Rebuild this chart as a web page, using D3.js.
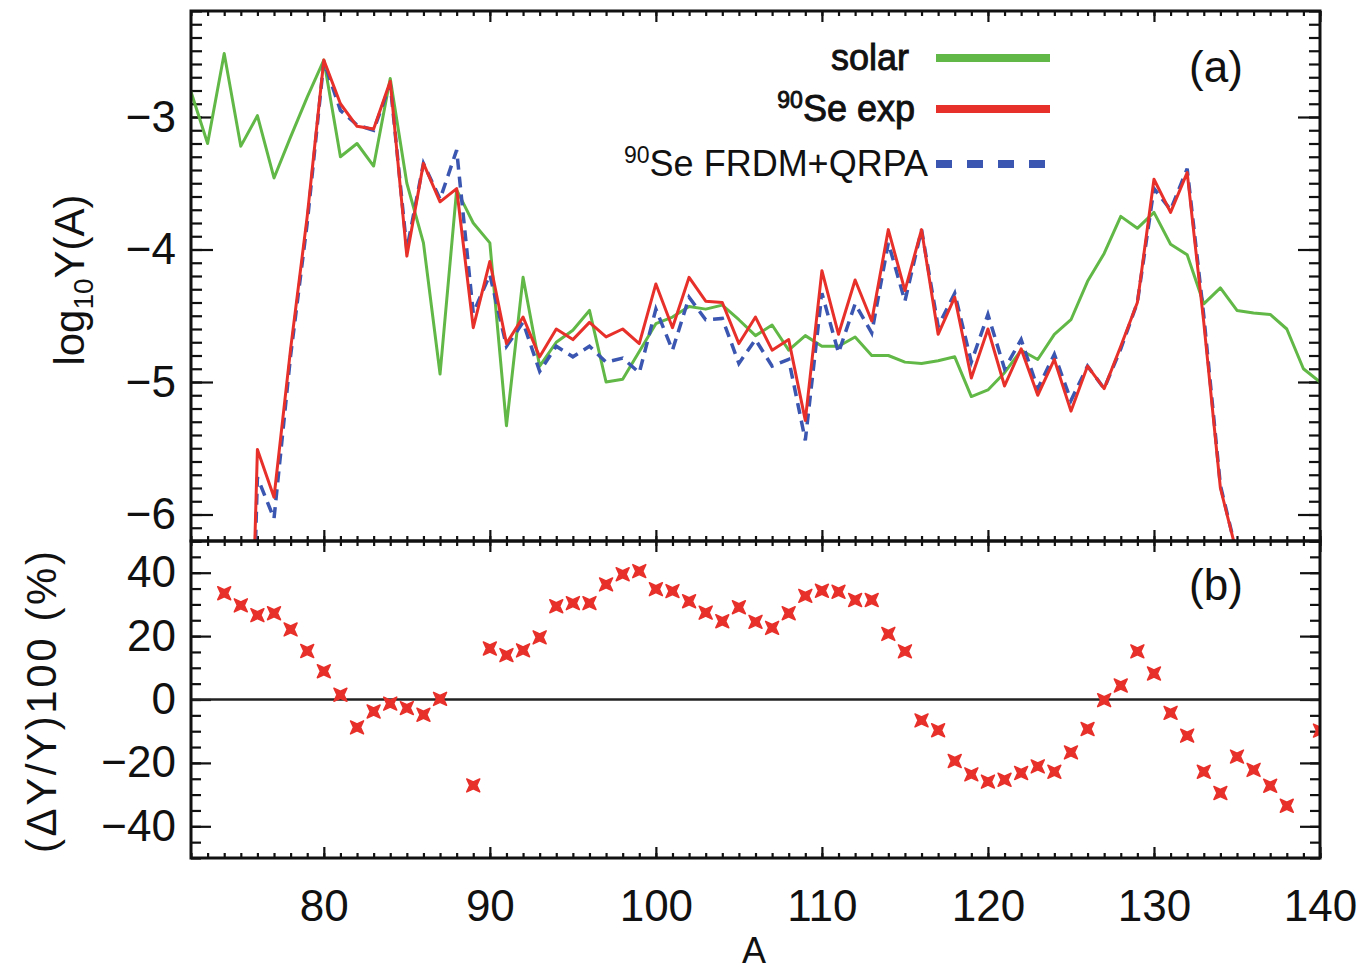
<!DOCTYPE html>
<html>
<head>
<meta charset="utf-8">
<script src="https://cdn.jsdelivr.net/npm/d3@7"></script>
<style>
body { margin: 0; background: #fff; }
text { font-family: "Liberation Sans", Arial, sans-serif; fill: #111; }
</style>
</head>
<body>
<div id="container"></div>
<script>
// mass numbers for the solar curve
var massSolar = d3.range(72, 141);
var solar = [
  -2.81, -3.20, -2.52, -3.22, -2.99, -3.46, -3.15, -2.85, -2.57, -3.30,
  -3.20, -3.37, -2.71, -3.50, -3.95, -4.94, -3.55, -3.80, -3.95, -5.33,
  -4.21, -4.88, -4.70, -4.61, -4.46, -5.00, -4.98, -4.77, -4.56, -4.51,
  -4.43, -4.45, -4.42, -4.53, -4.65, -4.57, -4.76, -4.65, -4.73, -4.73,
  -4.66, -4.80, -4.80, -4.85, -4.86, -4.84, -4.81, -5.11, -5.06, -4.93,
  -4.76, -4.83, -4.64, -4.53, -4.24, -4.03, -3.75, -3.84, -3.72, -3.96,
  -4.04, -4.41, -4.29, -4.46, -4.48, -4.49, -4.60, -4.90, -5.00
];

// mass numbers for the two 90Se calculations
var massCalc = d3.range(75, 137);
var exp90 = [
  -10.0, -5.51, -5.87, -4.75, -3.75, -2.57, -2.90, -3.07, -3.09, -2.73,
  -4.05, -3.35, -3.64, -3.54, -4.59, -4.09, -4.71, -4.51, -4.81, -4.60,
  -4.68, -4.55, -4.66, -4.60, -4.71, -4.26, -4.59, -4.21, -4.39, -4.40,
  -4.71, -4.51, -4.76, -4.68, -5.29, -4.16, -4.64, -4.23, -4.54, -3.85,
  -4.31, -3.85, -4.64, -4.36, -4.97, -4.60, -5.03, -4.75, -5.10, -4.83,
  -5.22, -4.88, -5.05, -4.73, -4.40, -3.47, -3.72, -3.42, -4.55, -5.80,
  -6.30, -7.50
];
var frdm90 = [
  -10.0, -5.72, -6.03, -4.80, -3.80, -2.58, -2.95, -3.06, -3.10, -2.75,
  -4.00, -3.35, -3.62, -3.25, -4.48, -4.19, -4.73, -4.55, -4.92, -4.73,
  -4.81, -4.73, -4.85, -4.82, -4.93, -4.45, -4.76, -4.36, -4.53, -4.52,
  -4.86, -4.68, -4.88, -4.83, -5.44, -4.33, -4.78, -4.41, -4.63, -3.95,
  -4.39, -3.85, -4.58, -4.33, -4.85, -4.49, -4.90, -4.68, -5.05, -4.79,
  -5.14, -4.88, -5.05, -4.75, -4.40, -3.54, -3.70, -3.39, -4.50, -5.78,
  -6.30, -7.50
];

// panel (b): relative difference in percent
var devA = [
  74, 75, 76, 77, 78, 79, 80, 81, 82, 83, 84, 85, 86, 87,
  89, 90, 91, 92, 93, 94, 95, 96, 97, 98, 99, 100, 101, 102, 103, 104,
  105, 106, 107, 108, 109, 110, 111, 112, 113, 114, 115, 116, 117, 118,
  119, 120, 121, 122, 123, 124, 125, 126, 127, 128, 129, 130, 131, 132,
  133, 134, 135, 136, 137, 138, 140
];
var devPct = [
  33.5, 29.7, 26.6, 27.2, 22.1, 15.3, 8.9, 1.5, -8.8, -3.8, -1.3, -2.7, -4.8, 0.2,
  -27.1, 16.1, 14.0, 15.5, 19.6, 29.4, 30.4, 30.4, 36.3, 39.5, 40.5, 34.8, 34.2, 31.0, 27.4, 24.7,
  29.1, 24.5, 22.6, 27.2, 32.7, 34.3, 34.0, 31.4, 31.4, 20.7, 15.2, -6.6, -9.7, -19.4,
  -23.6, -25.9, -25.3, -23.2, -21.1, -22.8, -16.7, -9.3, -0.2, 4.4, 15.2, 8.2, -4.2, -11.4,
  -22.8, -29.5, -18.0, -22.2, -27.2, -33.5, -9.8
];

var xMajor = [80, 90, 100, 110, 120, 130, 140];
var topMajor = [-3, -4, -5, -6];
var botMajor = [40, 20, 0, -20, -40];

var legendNames = ["solar", "Se exp", "Se FRDM+QRPA"];
var legendColors = ["#62b846", "#e8302a", "#3a56b0"];

(function() {
  var W = 1370, H = 973;
  var pl = 191, pr = 1320, pt = 11, pm = 541, pb = 858;

  var svg = d3.select("#container").append("svg")
    .attr("width", W).attr("height", H);

  var x = d3.scaleLinear().domain([72, 140]).range([pl, pr]);
  var yTop = d3.scaleLinear().domain([-6.2, -2.2]).range([pm, pt]);
  var yBot = d3.scaleLinear().domain([-50, 50]).range([pb, pm]);

  var defs = svg.append("defs");
  defs.append("clipPath").attr("id", "clipTop").append("rect")
    .attr("x", pl).attr("y", pt).attr("width", pr - pl).attr("height", pm - pt);
  defs.append("clipPath").attr("id", "clipBot").append("rect")
    .attr("x", pl).attr("y", pm).attr("width", pr - pl).attr("height", pb - pm);

  // ---- ticks (all pointing inward, mirrored on every side)
  function ticks(axis, tr) {
    var g = svg.append("g").attr("transform", tr).call(axis);
    g.select(".domain").remove();
    g.selectAll("line").attr("stroke", "#111").attr("stroke-width", 2.2);
    g.selectAll("text").remove();
  }
  var xMinor = d3.range(72, 141);
  [pt, pm, pb].forEach(function(yy, i) {
    if (i < 2) { // downward ticks from an upper edge
      ticks(d3.axisTop(x).tickValues(xMinor).tickSize(-5), "translate(0," + yy + ")");
      ticks(d3.axisTop(x).tickValues(xMajor).tickSize(-11), "translate(0," + yy + ")");
    }
    if (i > 0) { // upward ticks from a lower edge
      ticks(d3.axisBottom(x).tickValues(xMinor).tickSize(-5), "translate(0," + yy + ")");
      ticks(d3.axisBottom(x).tickValues(xMajor).tickSize(-11), "translate(0," + yy + ")");
    }
  });

  var topMinor = d3.range(-62, -21).map(function(v) { return v / 10; });
  var botMinor = d3.range(-50, 51, 5);
  ticks(d3.axisLeft(yTop).tickValues(topMinor).tickSize(-11), "translate(" + pl + ",0)");
  ticks(d3.axisLeft(yTop).tickValues(topMajor).tickSize(-22), "translate(" + pl + ",0)");
  ticks(d3.axisRight(yTop).tickValues(topMinor).tickSize(-11), "translate(" + pr + ",0)");
  ticks(d3.axisRight(yTop).tickValues(topMajor).tickSize(-22), "translate(" + pr + ",0)");
  ticks(d3.axisLeft(yBot).tickValues(botMinor).tickSize(-10), "translate(" + pl + ",0)");
  ticks(d3.axisLeft(yBot).tickValues(botMajor).tickSize(-20), "translate(" + pl + ",0)");
  ticks(d3.axisRight(yBot).tickValues(botMinor).tickSize(-10), "translate(" + pr + ",0)");
  ticks(d3.axisRight(yBot).tickValues(botMajor).tickSize(-20), "translate(" + pr + ",0)");

  // ---- tick labels
  function labels(axis, tr) {
    var g = svg.append("g").attr("transform", tr).call(axis);
    g.select(".domain").remove();
    g.selectAll("line").remove();
    g.selectAll("text").attr("font-size", 44).attr("fill", "#1a1a1a")
      .style("font-family", "'Liberation Sans', Arial, sans-serif");
  }
  var fmt = d3.format("d");
  labels(d3.axisBottom(x).tickValues(xMajor).tickFormat(fmt).tickSize(0).tickPadding(32), "translate(0," + pb + ")");
  labels(d3.axisLeft(yTop).tickValues(topMajor).tickFormat(fmt).tickSize(0).tickPadding(15), "translate(" + pl + ",0)");
  labels(d3.axisLeft(yBot).tickValues(botMajor).tickFormat(fmt).tickSize(0).tickPadding(15), "translate(" + pl + ",0)");

  // ---- panel (a) curves
  var line = d3.line()
    .x(function(d) { return x(d[0]); })
    .y(function(d) { return yTop(d[1]); });
  var curves = svg.append("g").attr("clip-path", "url(#clipTop)");

  curves.append("path")
    .attr("d", line(d3.zip(massSolar, solar)))
    .attr("fill", "none").attr("stroke", legendColors[0]).attr("stroke-width", 3)
    .attr("stroke-linejoin", "round");
  curves.append("path")
    .attr("d", line(d3.zip(massCalc, frdm90)))
    .attr("fill", "none").attr("stroke", legendColors[2]).attr("stroke-width", 3.5)
    .attr("stroke-dasharray", "11,7");
  curves.append("path")
    .attr("d", line(d3.zip(massCalc, exp90)))
    .attr("fill", "none").attr("stroke", legendColors[1]).attr("stroke-width", 3)
    .attr("stroke-linejoin", "round");

  // ---- panel (b)
  svg.append("line")
    .attr("x1", pl).attr("x2", pr)
    .attr("y1", yBot(0)).attr("y2", yBot(0))
    .attr("stroke", "#222").attr("stroke-width", 2.5);

  // fat "x" marker, like a square with notched sides
  var markPath = "M-6.5,-6.5L0,-3.5L6.5,-6.5L3.5,0L6.5,6.5L0,3.5L-6.5,6.5L-3.5,0Z";
  svg.append("g").attr("clip-path", "url(#clipBot)")
    .selectAll("path").data(d3.zip(devA, devPct)).enter().append("path")
    .attr("d", markPath)
    .attr("transform", function(d) { return "translate(" + x(d[0]) + "," + yBot(d[1]) + ")"; })
    .attr("fill", "#e8302a").attr("stroke", "#e8302a").attr("stroke-width", 1.5)
    .attr("stroke-linejoin", "round");

  // ---- frames
  svg.append("rect").attr("x", pl).attr("y", pt).attr("width", pr - pl).attr("height", pm - pt)
    .attr("fill", "none").attr("stroke", "#111").attr("stroke-width", 3);
  svg.append("rect").attr("x", pl).attr("y", pm).attr("width", pr - pl).attr("height", pb - pm)
    .attr("fill", "none").attr("stroke", "#111").attr("stroke-width", 3);

  // ---- legend
  var legY = [58, 109, 164];
  var legEnd = [909, 915, 928];
  legendNames.forEach(function(name, i) {
    var t = svg.append("text")
      .attr("x", legEnd[i]).attr("y", legY[i] + 12)
      .attr("text-anchor", "end").attr("font-size", 36)
      .attr("stroke", i < 2 ? "#111" : null)
      .attr("stroke-width", i < 2 ? 0.9 : null);
    if (i > 0) {
      t.append("tspan").attr("font-size", 23).attr("dy", -13).text("90");
      t.append("tspan").attr("dy", 13).text(name);
    } else {
      t.text(name);
    }
    svg.append("line")
      .attr("x1", 936).attr("x2", 1050).attr("y1", legY[i]).attr("y2", legY[i])
      .attr("stroke", legendColors[i]).attr("stroke-width", 8)
      .attr("stroke-dasharray", i === 2 ? "16,15" : null);
  });

  // ---- panel letters
  svg.append("text").attr("x", 1216).attr("y", 82).attr("text-anchor", "middle")
    .attr("font-size", 44).attr("fill", "#222").text("(a)");
  svg.append("text").attr("x", 1216).attr("y", 600).attr("text-anchor", "middle")
    .attr("font-size", 44).attr("fill", "#222").text("(b)");

  // ---- axis titles
  var t1 = svg.append("text")
    .attr("transform", "translate(84,280) rotate(-90)")
    .attr("text-anchor", "middle").attr("font-size", 42);
  t1.append("tspan").text("log");
  t1.append("tspan").attr("font-size", 28).attr("dy", 9).text("10");
  t1.append("tspan").attr("dy", -9).text("Y(A)");

  svg.append("text")
    .attr("transform", "translate(56,702) rotate(-90)")
    .attr("text-anchor", "middle").attr("font-size", 42)
    .attr("textLength", 302).attr("lengthAdjust", "spacing")
    .text("(\u0394Y/Y)100 (%)");

  svg.append("text").attr("x", 754).attr("y", 963).attr("text-anchor", "middle")
    .attr("font-size", 36).text("A");
})();
</script>
</body>
</html>
